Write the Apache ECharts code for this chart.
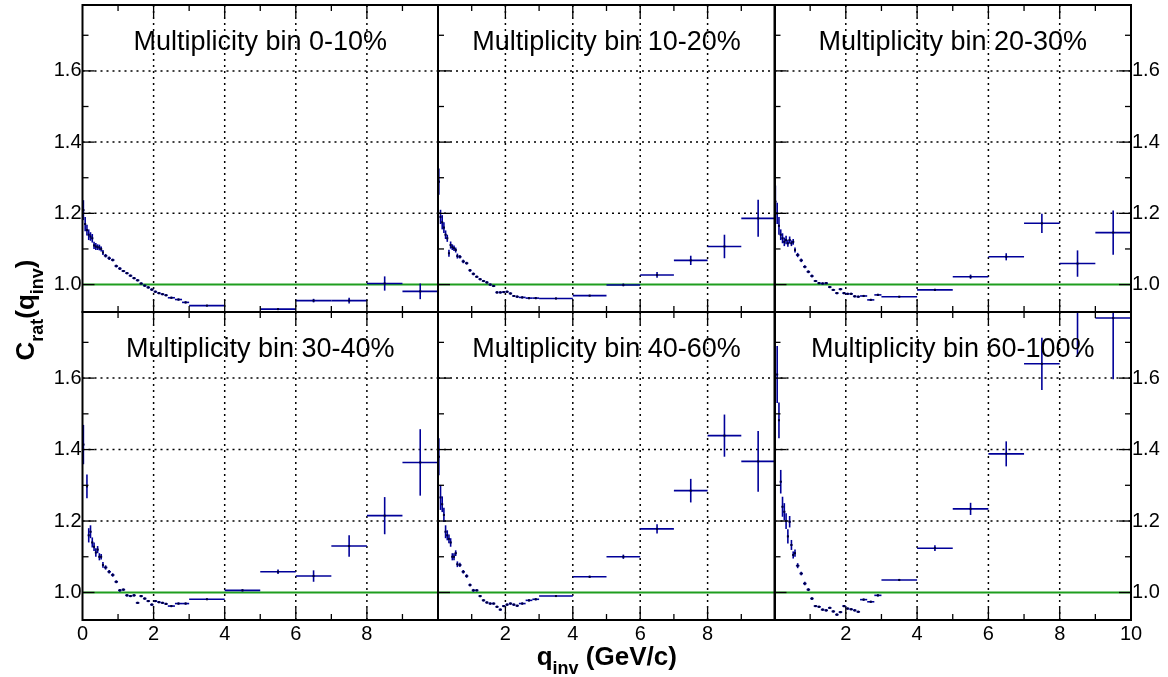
<!DOCTYPE html>
<html>
<head>
<meta charset="utf-8">
<script src="https://cdn.jsdelivr.net/npm/echarts@6/dist/echarts.min.js"></script>
<style>
  html, body { margin: 0; padding: 0; background: #ffffff; }
  #chart { width: 1168px; height: 677px; }
</style>
</head>
<body>
<div id="chart"></div>
<script>
// Correlation-function ratio C_rat(q_inv) in six multiplicity classes.

const panelTitles = [
  'Multiplicity bin 0-10%', 'Multiplicity bin 10-20%', 'Multiplicity bin 20-30%',
  'Multiplicity bin 30-40%', 'Multiplicity bin 40-60%', 'Multiplicity bin 60-100%'
];

// q_inv bin edges (GeV/c): fine binning at low q, 1 GeV/c bins above 3 GeV/c
const qEdges = [0, 0.05, 0.1, 0.15, 0.2, 0.25, 0.3, 0.35, 0.4, 0.45, 0.5, 0.55, 0.6,
  0.7, 0.8, 0.9, 1.0, 1.1, 1.2, 1.3, 1.4, 1.5, 1.6, 1.7, 1.8, 1.9, 2.0, 2.1, 2.2, 2.3, 2.4,
  2.6, 2.8, 3, 4, 5, 6, 7, 8, 9, 10];

// Ratio values and statistical errors per bin (null = no entry)
const ratio0to10 = [1.209, 1.17, 1.153, 1.14, 1.135, 1.13, 1.11, 1.107, 1.105, 1.104, 1.10, 1.09,
  1.081, 1.074, 1.069, 1.052, 1.045, 1.038, 1.032, 1.025, 1.018, 1.012, 1.003, 0.997, 0.992, 0.986, 0.98, 0.976, 0.973, 0.97,
  0.963, 0.958, 0.95,
  0.941, null, 0.931, 0.955, 0.955, 1.003, 0.981];
const err0to10 = [0.028, 0.02, 0.015, 0.015, 0.012, 0.012, 0.01, 0.01, 0.008, 0.008, 0.007, 0.007,
  0.005, 0.005, 0.004, 0.004, 0.004, 0.003, 0.003, 0.003, 0.003, 0.003, 0.003, 0.003, 0.003, 0.003, 0.003, 0.003, 0.003, 0.003,
  0.003, 0.003, 0.003,
  0.002, 0.002, 0.002, 0.005, 0.008, 0.02, 0.022];

const ratio10to20 = [1.289, 1.19, 1.175, 1.16, 1.14, 1.13, 1.088, 1.111, 1.105, 1.102, 1.097, 1.08,
  1.078, 1.065, 1.06, 1.04, 1.03, 1.022, 1.015, 1.01, 1.006, 1.0, 0.996, 0.978, 0.978, 0.979, 0.98, 0.975, 0.968, 0.966,
  0.964, 0.962, 0.962,
  0.961, 0.969, 0.999, 1.027, 1.068, 1.107, 1.186];
const err10to20 = [0.037, 0.02, 0.02, 0.015, 0.012, 0.01, 0.01, 0.01, 0.008, 0.008, 0.007, 0.007,
  0.005, 0.005, 0.004, 0.004, 0.004, 0.003, 0.003, 0.003, 0.003, 0.003, 0.003, 0.003, 0.003, 0.003, 0.003, 0.003, 0.003, 0.003,
  0.003, 0.003, 0.003,
  0.002, 0.002, 0.004, 0.008, 0.013, 0.033, 0.052];

const ratio20to30 = [1.233, 1.20, 1.165, 1.14, 1.13, 1.12, 1.125, 1.116, 1.125, 1.116, 1.12, 1.097,
  1.083, 1.068, 1.05, 1.036, 1.024, 1.01, 1.004, 1.003, 1.004, 0.993, 0.985, 0.976, 0.987, 0.976, 0.974, 0.974, 0.967, 0.966,
  0.968, 0.957, 0.971,
  0.966, 0.985, 1.022, 1.078, 1.172, 1.059, 1.146];
const err20to30 = [0.045, 0.03, 0.025, 0.015, 0.014, 0.012, 0.012, 0.01, 0.01, 0.008, 0.008, 0.007,
  0.006, 0.005, 0.004, 0.004, 0.004, 0.003, 0.003, 0.003, 0.003, 0.003, 0.003, 0.003, 0.003, 0.003, 0.003, 0.003, 0.003, 0.003,
  0.003, 0.003, 0.003,
  0.002, 0.003, 0.006, 0.01, 0.027, 0.037, 0.062];

const ratio30to40 = [1.414, null, 1.297, 1.16, 1.17, 1.14, 1.128, 1.112, 1.12, 1.10, 1.10, 1.077,
  1.07, 1.058, 1.049, 1.03, 1.006, 1.008, 0.992, 0.99, 0.992, 0.971, 0.99, 0.983, 0.976, 0.966, 0.976, 0.973, 0.971, 0.968,
  0.962, 0.969, 0.969,
  0.981, 1.006, 1.058, 1.046, 1.13, 1.215, 1.364];
const err30to40 = [0.055, 0, 0.033, 0.02, 0.018, 0.014, 0.012, 0.012, 0.01, 0.01, 0.008, 0.008,
  0.006, 0.005, 0.005, 0.004, 0.004, 0.003, 0.003, 0.003, 0.003, 0.003, 0.003, 0.003, 0.003, 0.003, 0.003, 0.003, 0.003, 0.003,
  0.003, 0.003, 0.003,
  0.002, 0.003, 0.006, 0.016, 0.03, 0.052, 0.093];

const ratio40to60 = [1.38, 1.266, 1.247, 1.217, 1.17, 1.16, 1.15, 1.14, 1.10, 1.10, 1.11, 1.079,
  1.077, 1.058, 1.046, 1.021, 1.006, 1.006, 0.99, 0.978, 0.972, 0.969, 0.969, 0.96, 0.952, 0.962, 0.966, 0.969, 0.966, 0.963,
  0.969, 0.978, 0.981,
  0.99, 1.044, 1.10, 1.178, 1.285, 1.439, 1.367];
const err40to60 = [0.052, 0.035, 0.022, 0.02, 0.018, 0.014, 0.012, 0.012, 0.01, 0.01, 0.008, 0.008,
  0.006, 0.005, 0.005, 0.004, 0.004, 0.003, 0.003, 0.003, 0.003, 0.003, 0.003, 0.003, 0.003, 0.003, 0.003, 0.003, 0.003, 0.003,
  0.003, 0.003, 0.003,
  0.002, 0.003, 0.006, 0.013, 0.033, 0.059, 0.085];

const ratio60to100 = [null, 1.61, 1.482, 1.31, 1.24, 1.226, 1.20, 1.157, 1.198, 1.133, 1.105, 1.11,
  1.075, 1.053, 1.025, 1.008, 0.983, 0.962, 0.96, 0.952, 0.95, 0.957, 0.947, 0.938, 0.945, 0.962, 0.955, 0.953, 0.95, 0.946,
  0.98, 0.974, 0.992,
  1.035, 1.124, 1.234, 1.388, 1.64, 1.80, 1.768];
const err60to100 = [0, 0.08, 0.05, 0.033, 0.028, 0.024, 0.022, 0.02, 0.016, 0.014, 0.01, 0.01,
  0.007, 0.005, 0.005, 0.004, 0.004, 0.003, 0.003, 0.003, 0.003, 0.003, 0.003, 0.003, 0.003, 0.003, 0.003, 0.003, 0.003, 0.003,
  0.003, 0.003, 0.003,
  0.003, 0.008, 0.017, 0.035, 0.073, 0.14, 0.171];

const panelRatios = [ratio0to10, ratio10to20, ratio20to30, ratio30to40, ratio40to60, ratio60to100];
const panelErrors = [err0to10, err10to20, err20to30, err30to40, err40to60, err60to100];

// Axis ranges, ticks and labels
const Q_MIN = 0, Q_MAX = 10;
const Y_MIN = 0.923, Y_MAX = 1.785;
const unityLevel = 1.0;
const xGridLines = [2, 4, 6, 8];
const yGridLines = [1.2, 1.4, 1.6];
const xMajorTicks = [2, 4, 6, 8];
const xMinorTicks = [1, 3, 5, 7, 9];
const yMajorTicks = [1.0, 1.2, 1.4, 1.6];
const yMinorTicks = [1.1, 1.3, 1.5, 1.7];
const yTickLabels = ['1.0', '1.2', '1.4', '1.6'];

// Pad layout (pixels)
const cols = [{ left: 82.5, width: 355.5 }, { left: 438, width: 337 }, { left: 774.5, width: 356.5 }];
const rows = [{ top: 5, height: 307 }, { top: 312, height: 308 }];

const FONT = 'Liberation Sans, Arial, Helvetica, sans-serif';
const BLUE = '#000099';
const GREEN = '#1f9e1f';
const MAJOR_LEN = 12, MINOR_LEN = 6;
const LABEL_SIZE = 20;

function binData(vals, errs) {
  const out = [];
  for (let i = 0; i < vals.length; i++) {
    if (vals[i] == null) continue;
    out.push([qEdges[i], qEdges[i + 1], vals[i], errs[i]]);
  }
  return out;
}

function seg(x1, y1, x2, y2, style) {
  return { type: 'line', shape: { x1, y1, x2, y2 }, style };
}

// Histogram-style points: horizontal bar over the bin, vertical error bar, small marker
function renderBin(params, api) {
  const lo = api.value(0), hi = api.value(1), y = api.value(2), e = api.value(3);
  const xc = (lo + hi) / 2;
  const pL = api.coord([lo, y]), pR = api.coord([hi, y]);
  const pT = api.coord([xc, y + e]), pB = api.coord([xc, y - e]);
  const st = { stroke: BLUE, lineWidth: 1.6, fill: null };
  return {
    type: 'group',
    children: [
      seg(pL[0], pL[1], pR[0], pR[1], st),
      seg(pT[0], pT[1], pB[0], pB[1], st),
      { type: 'rect', shape: { x: pT[0] - 1, y: pL[1] - 1, width: 2, height: 2 }, style: { fill: '#000033' } }
    ]
  };
}

// Dotted grid
function renderGrid(params, api) {
  const st = { stroke: '#000', lineWidth: 1.5, lineDash: [2, 4], fill: null };
  const ch = [];
  xGridLines.forEach(v => {
    const a = api.coord([v, Y_MAX]), b = api.coord([v, Y_MIN]);
    ch.push(seg(a[0], a[1], b[0], b[1], st));
  });
  yGridLines.forEach(v => {
    const a = api.coord([Q_MIN, v]), b = api.coord([Q_MAX, v]);
    ch.push(seg(a[0], a[1], b[0], b[1], st));
  });
  return { type: 'group', children: ch };
}

// Frame, inward ticks on all sides, y labels on outer pads
function makeFrameRenderer(col) {
  return function (params, api) {
    const tl = api.coord([Q_MIN, Y_MAX]), br = api.coord([Q_MAX, Y_MIN]);
    const L = tl[0], T = tl[1], R = br[0], B = br[1];
    const tk = { stroke: '#000', lineWidth: 1.3, fill: null };
    const ch = [];
    const xt = (v, len) => {
      const x = api.coord([v, Y_MIN])[0];
      ch.push(seg(x, B, x, B - len, tk), seg(x, T, x, T + len, tk));
    };
    const yt = (v, len) => {
      const y = api.coord([Q_MIN, v])[1];
      ch.push(seg(L, y, L + len, y, tk));
      if (col === 2) ch.push(seg(R, y, R - len, y, tk));
    };
    xMajorTicks.forEach(v => xt(v, MAJOR_LEN));
    xMinorTicks.forEach(v => xt(v, MINOR_LEN));
    yMajorTicks.forEach(v => yt(v, MAJOR_LEN));
    yMinorTicks.forEach(v => yt(v, MINOR_LEN));
    if (col === 0 || col === 2) {
      yMajorTicks.forEach((v, k) => {
        const y = api.coord([Q_MIN, v])[1];
        ch.push({
          type: 'text',
          x: col === 0 ? L - 1 : R + 1, y: y,
          style: {
            text: yTickLabels[k], fontSize: LABEL_SIZE, fontFamily: FONT, fill: '#000',
            align: col === 0 ? 'right' : 'left', verticalAlign: 'middle'
          }
        });
      });
    }
    ch.push({ type: 'rect', shape: { x: L, y: T, width: R - L, height: B - T },
      style: { fill: null, stroke: '#000', lineWidth: 2 } });
    return { type: 'group', children: ch };
  };
}

const grids = [], xAxes = [], yAxes = [], series = [], graphics = [];

for (let i = 0; i < 6; i++) {
  const r = Math.floor(i / 3), c = i % 3;
  grids.push({ left: cols[c].left, top: rows[r].top, width: cols[c].width, height: rows[r].height, containLabel: false });
  xAxes.push({
    type: 'value', gridIndex: i, min: Q_MIN, max: Q_MAX, interval: 2,
    axisLine: { show: false }, axisTick: { show: false }, splitLine: { show: false },
    axisLabel: {
      show: r === 1, margin: 4, fontSize: LABEL_SIZE, fontFamily: FONT, color: '#000',
      showMinLabel: c === 0, showMaxLabel: c === 2,
      formatter: v => String(v)
    }
  });
  yAxes.push({
    type: 'value', gridIndex: i, min: Y_MIN, max: Y_MAX,
    axisLine: { show: false }, axisTick: { show: false }, splitLine: { show: false },
    axisLabel: { show: false }
  });

  series.push({
    type: 'custom', xAxisIndex: i, yAxisIndex: i, z: 1, silent: true,
    renderItem: renderGrid, data: [[Q_MIN, Y_MIN]]
  });
  series.push({
    type: 'line', xAxisIndex: i, yAxisIndex: i, z: 2, silent: true, symbol: 'none',
    lineStyle: { color: GREEN, width: 2 },
    data: [[Q_MIN, unityLevel], [Q_MAX, unityLevel]]
  });
  series.push({
    type: 'custom', xAxisIndex: i, yAxisIndex: i, z: 3, clip: true, silent: true,
    renderItem: renderBin, encode: { x: [0, 1], y: 2 },
    data: binData(panelRatios[i], panelErrors[i])
  });
  series.push({
    type: 'custom', xAxisIndex: i, yAxisIndex: i, z: 4, silent: true,
    renderItem: makeFrameRenderer(c), data: [[Q_MIN, Y_MIN]]
  });

  graphics.push({
    type: 'text', x: cols[c].left + cols[c].width / 2, y: rows[r].top + 38, z: 10,
    style: { text: panelTitles[i], fontSize: 27, fontFamily: FONT, fill: '#000',
      align: 'center', verticalAlign: 'middle' }
  });
}

const mainTitle = { fontSize: 26, fontWeight: 'bold', fontFamily: FONT, lineHeight: 26, verticalAlign: 'top' };
const subTitle = { fontSize: 18, fontWeight: 'bold', fontFamily: FONT, lineHeight: 18, verticalAlign: 'top', padding: [15, 0, 0, 0] };

// x axis title
graphics.push({
  type: 'text', x: 606.8, y: 658, z: 10,
  style: {
    text: '{m|q}{s|inv}{m| (GeV/c)}',
    rich: { m: mainTitle, s: subTitle },
    fill: '#000', align: 'center', verticalAlign: 'middle'
  }
});
// y axis title
graphics.push({
  type: 'text', x: 27, y: 310, rotation: Math.PI / 2, z: 10,
  style: {
    text: '{m|C}{s|rat}{m|(q}{s|inv}{m|)}',
    rich: { m: mainTitle, s: subTitle },
    fill: '#000', align: 'center', verticalAlign: 'middle'
  }
});

const chart = echarts.init(document.getElementById('chart'), null, { renderer: 'canvas' });
chart.setOption({
  animation: false,
  backgroundColor: '#ffffff',
  textStyle: { fontFamily: FONT },
  grid: grids,
  xAxis: xAxes,
  yAxis: yAxes,
  series: series,
  graphic: graphics
});
</script>
</body>
</html>
